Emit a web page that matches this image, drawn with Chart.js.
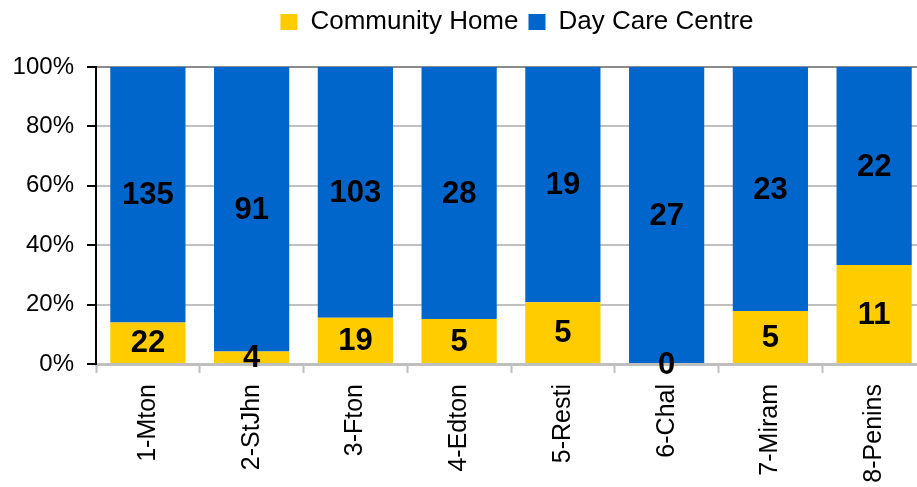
<!DOCTYPE html>
<html lang="en">
<head>
  <meta charset="UTF-8">
  <title>Community Home vs Day Care Centre</title>
  <style>
    html, body { margin: 0; padding: 0; background: #fff; overflow: hidden; }
    canvas { display: block; }
  </style>
</head>
<body>
  <canvas id="chart" width="930" height="487"></canvas>

  <script src="https://cdn.jsdelivr.net/npm/chart.js"></script>
  <script>
    // data
    const areas = ['1-Mton', '2-StJhn', '3-Fton', '4-Edton', '5-Resti', '6-Chal', '7-Miram', '8-Penins'];
    const communityHome = [22, 4, 19, 5, 5, 0, 5, 11];
    const dayCareCentre = [135, 91, 103, 28, 19, 27, 23, 22];
    const yTicks = [0, 20, 40, 60, 80, 100];

    const totals = areas.map((a, i) => communityHome[i] + dayCareCentre[i]);
    const pct = arr => arr.map((v, i) => v / totals[i] * 100);
    const counts = [communityHome, dayCareCentre];

    const font = 'Liberation Sans, Arial, sans-serif';
    Chart.defaults.font.family = font;
    Chart.defaults.color = '#000';

    // draw the counts in the middle of each segment
    const valueLabels = {
      id: 'valueLabels',
      afterDatasetsDraw(chart) {
        const ctx = chart.ctx;
        ctx.save();
        ctx.font = 'bold 31px ' + font;
        ctx.fillStyle = '#000';
        ctx.textAlign = 'center';
        ctx.textBaseline = 'middle';
        chart.data.datasets.forEach((ds, d) => {
          chart.getDatasetMeta(d).data.forEach((bar, i) => {
            const p = bar.getCenterPoint();
            ctx.fillText(String(counts[d][i]), p.x, p.y + 1);
          });
        });
        ctx.restore();
      }
    };

    // move the legend to where it sits in the original
    const legendShift = {
      id: 'legendShift',
      afterLayout(chart) {
        const lg = chart.legend;
        const dx = 517 - (lg.left + lg.right) / 2;
        const dy = 22 - (lg.top + 10 + 13);
        lg.left += dx; lg.right += dx;
        lg.top += dy; lg.bottom += dy;
      }
    };

    new Chart(document.getElementById('chart'), {
      type: 'bar',
      data: {
        labels: areas,
        datasets: [{
          label: 'Community Home',
          data: pct(communityHome),
          backgroundColor: '#FFCC00',
          borderWidth: 0
        }, {
          label: 'Day Care Centre',
          data: pct(dayCareCentre),
          backgroundColor: '#0066CC',
          borderWidth: 0
        }]
      },
      options: {
        responsive: false,
        animation: false,
        layout: { padding: { top: 21, right: 4, left: 0, bottom: 0 } },
        datasets: { bar: { categoryPercentage: 1, barPercentage: 0.725 } },
        plugins: {
          legend: {
            position: 'top',
            labels: {
              boxWidth: 17,
              boxHeight: 16,
              padding: 10,
              font: { size: 26 },
              color: '#000'
            }
          },
          tooltip: { enabled: false }
        },
        scales: {
          x: {
            stacked: true,
            afterFit(scale) { scale.height = 123; },
            grid: {
              offset: true,
              drawOnChartArea: false,
              drawTicks: true,
              tickLength: 9,
              tickColor: '#BFBFBF',
              tickWidth: 2
            },
            border: { color: '#BFBFBF', width: 3 },
            ticks: {
              autoSkip: false,
              maxRotation: 90,
              minRotation: 90,
              padding: 11,
              font: { size: 25 }
            }
          },
          y: {
            stacked: true,
            min: 0,
            max: 100,
            afterFit(scale) { scale.width = 96; },
            afterBuildTicks(scale) { scale.ticks = yTicks.map(v => ({ value: v })); },
            grid: {
              color: ctx => ctx.tick && ctx.tick.value === 100 ? '#8C8C8C' : '#C0C0C0',
              lineWidth: 2,
              tickLength: 9,
              tickColor: '#000',
              tickWidth: 2
            },
            border: { color: '#000', width: 2 },
            ticks: {
              padding: 13,
              font: { size: 24 },
              callback: v => v + '%'
            }
          }
        }
      },
      plugins: [valueLabels, legendShift]
    });
  </script>
</body>
</html>
